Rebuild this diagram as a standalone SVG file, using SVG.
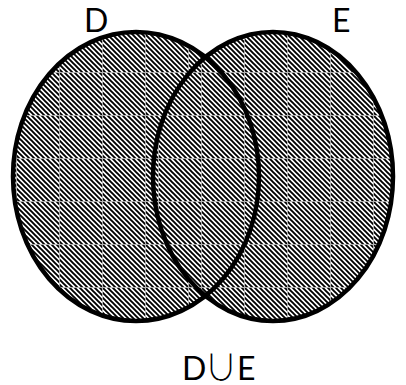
<svg xmlns="http://www.w3.org/2000/svg" width="406" height="385" viewBox="0 0 406 385">
  <style>
    .lbl { font-family: Lato, "Liberation Sans", sans-serif; font-size: 32px; fill: #000; }
    .edge { fill: none; stroke: #000; stroke-width: 4.5; }
    .cup { font-family: "Noto Sans CJK JP", "DejaVu Sans", sans-serif; font-size: 32px; font-weight: 300; fill: #000; }
  </style>
  <defs>
    <pattern id="stripes" patternUnits="userSpaceOnUse" width="5" height="5">
      <rect x="0" y="0" width="5" height="5" fill="#fff"/>
      <path d="M-1 -1L6 6M-1 4L1 6M4 -1L6 1" stroke="#000" stroke-width="1.9" fill="none"/>
    </pattern>
    <pattern id="gridD" patternUnits="userSpaceOnUse" x="16" y="29" width="43" height="43">
      <rect x="0" y="0" width="43" height="43" fill="url(#stripes)"/>
      <path d="M0.5 0V43M0 0.5H43" stroke="#b4b4b4" stroke-width="1" fill="none"/>
    </pattern>
    <pattern id="gridE" patternUnits="userSpaceOnUse" x="158" y="29" width="43" height="43">
      <rect x="0" y="0" width="43" height="43" fill="url(#stripes)"/>
      <path d="M0.5 0V43M0 0.5H43" stroke="#b4b4b4" stroke-width="1" fill="none"/>
    </pattern>
  </defs>
  <rect width="406" height="385" fill="#fff"/>
  <g id="setD">
    <ellipse cx="136" cy="176.5" rx="123" ry="144.5" fill="url(#gridD)"/>
  </g>
  <g id="setE">
    <ellipse cx="273" cy="176.5" rx="120" ry="144.5" fill="url(#gridE)"/>
  </g>
  <g id="outlines">
    <ellipse class="edge" cx="136" cy="176.5" rx="123" ry="144.5"/>
    <ellipse class="edge" cx="273" cy="176.5" rx="120" ry="144.5"/>
  </g>
  <g id="labels">
    <text class="lbl" x="84" y="32">D</text>
    <text class="lbl" x="332" y="32">E</text>
    <text class="lbl" x="182" y="380">D</text>
    <text class="cup" x="0" y="0" text-anchor="middle" transform="translate(221 381) scale(1 1.12)">∪</text>
    <text class="lbl" x="237" y="380">E</text>
  </g>
</svg>
